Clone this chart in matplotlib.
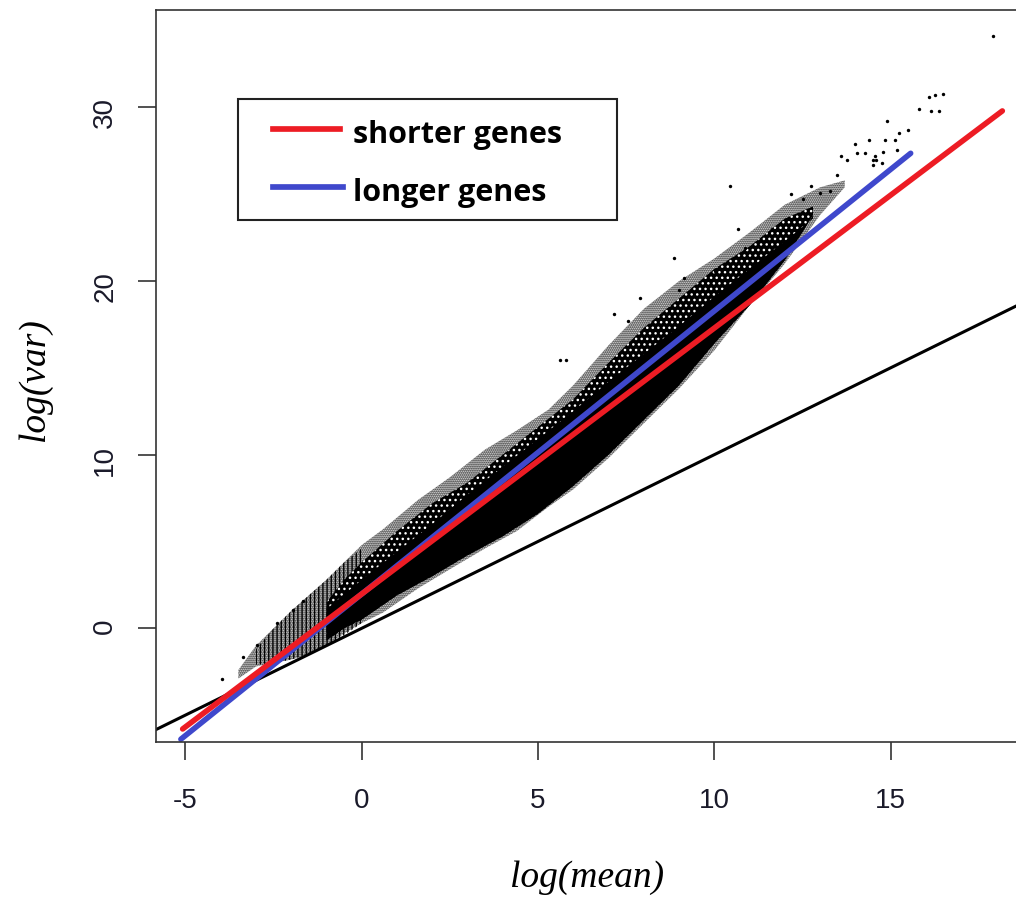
import matplotlib.pyplot as plt
from matplotlib.patches import Rectangle
from matplotlib.lines import Line2D

# fitted lines: end points in (log(mean), log(var))
short_x = [-5.08, 18.17]
short_y = [-5.80, 29.80]
long_x = [-5.13, 15.57]
long_y = [-6.39, 27.36]
# var = mean reference line
pois_x = [-7.0, 20.0]
pois_y = [-7.0, 20.0]

# outer edge of the gene cloud (sparse points)
cloud_x = [-3.5, -3.0, -2.5, -2.0, -1.5, -1.0, -0.5, 0.0, 0.6, 1.6, 2.5, 3.5,
           4.4, 5.3, 6.0, 7.0, 8.0, 9.0, 10.0, 11.0, 12.0, 13.0, 13.7]
cloud_hi = [-2.4, -1.0, 0.0, 1.0, 1.9, 2.8, 3.8, 4.8, 5.7, 7.4, 8.7, 10.3,
            11.4, 12.6, 14.0, 16.3, 18.4, 20.0, 21.3, 22.8, 24.4, 25.4, 25.8]
cloud_lo = [-2.9, -2.2, -2.0, -1.8, -1.5, -1.0, -0.3, 0.3, 0.9, 2.3, 3.4, 4.6,
            5.6, 7.0, 8.0, 9.8, 11.8, 13.8, 16.0, 18.6, 21.0, 23.8, 25.4]

# main body of the cloud (mostly black, speckled)
body_x = [-1.0, -0.5, 0.0, 1.0, 2.0, 3.0, 4.0, 5.0, 6.0, 7.0, 8.0, 9.0,
          10.0, 11.0, 12.0, 12.8]
body_hi = [1.5, 2.8, 3.8, 5.6, 7.2, 8.4, 10.0, 11.6, 13.2, 15.3, 17.3, 19.0,
           20.7, 22.0, 23.6, 24.3]
body_lo = [-0.7, 0.0, 0.5, 1.9, 3.0, 4.2, 5.3, 6.6, 8.2, 10.0, 12.0, 14.0,
           16.4, 18.6, 21.2, 23.8]
# solid part around the fitted lines
core_hi = [1.1, 1.95, 2.8, 4.4, 6.0, 7.7, 9.3, 10.9, 12.5, 14.2, 15.8, 17.4,
           19.1, 20.7, 22.3, 23.6]

# low counts: vertical stripes
stripe_x = [-3.0, -2.5, -2.0, -1.5, -1.0, -0.5, 0.0]
stripe_hi = [-1.2, 0.0, 1.0, 1.9, 2.8, 3.8, 4.6]
stripe_lo = [-2.1, -2.0, -1.8, -1.5, -1.0, -0.4, 0.3]

# isolated genes
out_x = [17.9, 16.08, 16.26, 16.48, 15.8, 16.14, 16.37, 14.9, 15.5, 15.23,
         14.38, 14.84, 15.12, 13.99, 14.04, 14.27, 14.79, 15.17, 14.56, 14.49,
         14.6, 14.75, 14.51, 13.59, 13.76, 12.17, 12.51, 12.74, 13.0, 13.29,
         13.49, 10.45, 10.68, 7.9, 8.86, 9.15, 10.87, 11.63, 11.77, 10.02,
         9.5, 9.79, 9.0, 7.16, 7.56, 5.63, 5.8, -3.96, -3.36, -2.97, -2.4,
         -1.94, -1.66]
out_y = [34.1, 30.6, 30.7, 30.8, 29.9, 29.8, 29.8, 29.2, 28.7, 28.5,
         28.1, 28.1, 28.1, 27.9, 27.4, 27.4, 27.45, 27.55, 27.2, 27.0,
         27.0, 26.8, 26.7, 27.2, 27.0, 25.0, 24.75, 25.5, 25.1, 25.2,
         26.1, 25.5, 23.0, 19.0, 21.3, 20.2, 21.9, 23.0, 23.0, 20.6,
         19.7, 19.7, 19.5, 18.1, 17.7, 15.45, 15.45, -2.9, -1.65, -0.95, 0.3,
         1.05, 1.6]

xticks = [-5, 0, 5, 10, 15]
yticks = [0, 10, 20, 30]

W, H = 1016, 897
plt.rcParams['hatch.linewidth'] = 1.0
plt.rcParams['axes.unicode_minus'] = False
fig = plt.figure(figsize=(W / 100, H / 100), dpi=100)
ax = fig.add_axes([155.7 / W, 1 - 742 / H, (1017.5 - 155.7) / W, (742 - 9.7) / H])

ax.fill_between(cloud_x, cloud_lo, cloud_hi, facecolor='none', edgecolor='black',
                hatch='........', linewidth=0)
ax.fill_between(stripe_x, stripe_lo, stripe_hi, facecolor='none', edgecolor='black',
                hatch='||||', linewidth=0)
ax.fill_between(body_x, body_lo, body_hi, facecolor='black', edgecolor='white',
                hatch='...', linewidth=0)
ax.fill_between(body_x, body_lo, core_hi, facecolor='black', linewidth=0)
ax.scatter(out_x, out_y, s=6, marker='o', color='black', linewidths=0)

ax.plot(pois_x, pois_y, color='black', lw=2.2)
ax.plot(long_x, long_y, color='#3F48CC', lw=4, solid_capstyle='round')
ax.plot(short_x, short_y, color='#ED1C24', lw=4, solid_capstyle='round')

ax.set_xlim(-5.844, 18.60)
ax.set_ylim(-6.55, 35.63)
ax.set_xticks(xticks)
ax.set_yticks(yticks)
for s in ax.spines.values():
    s.set_linewidth(1.2)
    s.set_color('#333333')
ax.tick_params(length=13, width=1.2, color='#333333', labelsize=20,
               labelcolor='#1a1a2a')
ax.tick_params(axis='x', pad=20)
ax.tick_params(axis='y', pad=14, labelrotation=90)
for t in ax.get_xticklabels() + ax.get_yticklabels():
    t.set_family('Liberation Sans')

fig.text(587 / W, 1 - 878 / H, 'log(mean)', family='Liberation Serif', style='italic',
         fontsize=27, ha='center', va='center')
fig.text(35 / W, 1 - 380 / H, 'log(var)', family='Liberation Serif', style='italic',
         fontsize=27, ha='center', va='center', rotation=90)

# legend box (pasted on top of the plot)
fig.patches.append(Rectangle((238.3 / W, 1 - 220 / H), (616.7 - 238.3) / W, (220 - 99.3) / H,
                             transform=fig.transFigure, facecolor='white',
                             edgecolor='#222222', linewidth=1.5))
fig.lines.append(Line2D([273 / W, 340 / W], [1 - 129 / H] * 2, transform=fig.transFigure,
                        color='#ED1C24', lw=4.1))
fig.lines.append(Line2D([273 / W, 343 / W], [1 - 187 / H] * 2, transform=fig.transFigure,
                        color='#3F48CC', lw=4.1))
fig.text(353 / W, 1 - 142.7 / H, 'shorter genes', family='Open Sans', weight='bold',
         fontsize=22, va='baseline')
fig.text(353 / W, 1 - 201 / H, 'longer genes', family='Open Sans', weight='bold',
         fontsize=22, va='baseline')

fig.savefig('out.png', dpi=100)
